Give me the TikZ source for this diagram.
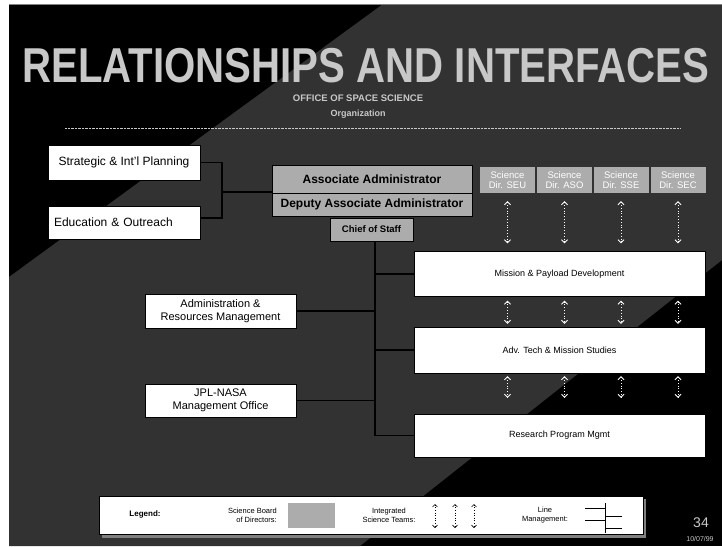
\documentclass[tikz,border=0pt]{standalone}
\usepackage{fontspec}
\setmainfont{Liberation Sans}
\usepackage{graphicx}
\usetikzlibrary{arrows.meta}
\definecolor{bandgray}{RGB}{50,50,50}
\definecolor{boardgray}{RGB}{172,172,172}
\definecolor{titlegray}{RGB}{200,200,200}
\tikzset{%
  >={Straight Barb[length=3pt,width=6pt]},
  unit/.style={draw=black,fill=white,inner sep=2pt,align=center,
    font=\fontsize{9}{10.5}\selectfont},
  side/.style={unit,font=\fontsize{12}{14}\selectfont},
  board/.style={draw=black,fill=boardgray,inner sep=1pt,align=center,
    font=\bfseries\fontsize{12}{13}\selectfont},
  dirbox/.style={fill=boardgray,inner sep=0pt,align=center,text=white,
    minimum width=55pt,minimum height=26pt,
    font=\fontsize{9.5}{10}\selectfont},
  team/.style={white,dotted,line width=0.8pt,<->},
  mgmt/.style={black,line width=1.2pt},
  legtext/.style={inner sep=0pt,align=center,font=\fontsize{7.5}{9}\selectfont}
}
\begin{document}
\begin{tikzpicture}[x=1pt,y=-1pt]
	%% frame and background
	\useasboundingbox (0,0) rectangle (722,546);
	\fill[white] (0,0) rectangle (722,546);
	\fill[black] (9,4) rectangle (722,546);
	\fill[bandgray] (383,4) -- (722,4) -- (722,260) -- (360,546)
	  -- (9,546) -- (9,277) -- cycle;
	\draw[gray,line width=1pt] (9,4) -- (722,4);
	
	%% heading
	\node[text=titlegray,inner sep=0pt,anchor=base] (title) at (366,82)
	  {\scalebox{0.82}[1]{\bfseries\fontsize{49}{52}\selectfont RELATIONSHIPS AND INTERFACES}};
	\node[text=titlegray,font=\bfseries\fontsize{9.5}{10}\selectfont,inner sep=0pt] (oss) at (358,98) {OFFICE OF SPACE SCIENCE};
	\node[text=titlegray,font=\bfseries\fontsize{9}{10}\selectfont,inner sep=0pt] (org) at (358,114) {Organization};
	\draw[titlegray,densely dotted] (65,128) -- (680,128);
	
	%% left column
	\node[side,minimum width=152pt,minimum height=35pt] (strat) at (124,162.5) {Strategic \& Int'l Planning};
	\node[side,minimum width=152pt,minimum height=33pt,text width=140pt,align=left] (edu) at (124,222.5) {Education \& Outreach};
	\node[side,minimum width=151pt,minimum height=34pt,font=\fontsize{11}{13}\selectfont] (arm) at (220.5,311) {Administration \&\\Resources Management};
	\node[side,minimum width=151pt,minimum height=33pt,font=\fontsize{11}{13}\selectfont] (jpl) at (220.5,400.5) {JPL-NASA\\Management Office};
	
	%% science board
	\node[board,minimum width=200pt,minimum height=28pt] (aa) at (372,179) {Associate Administrator};
	\node[board,minimum width=200pt,minimum height=23pt] (daa) at (372,204.5) {Deputy Associate Administrator};
	\node[board,minimum width=83pt,minimum height=23pt,font=\bfseries\fontsize{9.5}{11}\selectfont] (cos) at (371.5,229.5) {Chief of Staff};
	\node[dirbox] (d1) at (507.5,180) {Science\\Dir. SEU};
	\node[dirbox] (d2) at (564.5,180) {Science\\Dir. ASO};
	\node[dirbox] (d3) at (621,180) {Science\\Dir. SSE};
	\node[dirbox] (d4) at (678,180) {Science\\Dir. SEC};
	
	%% line units
	\node[unit,minimum width=291pt,minimum height=45pt] (mpd) at (559.5,274) {Mission \& Payload Development};
	\node[unit,minimum width=291pt,minimum height=46pt] (atm) at (559.5,350) {Adv. Tech \& Mission Studies};
	\node[unit,minimum width=291pt,minimum height=43pt] (rpm) at (559.5,435.5) {Research Program Mgmt};
	
	%% integrated science teams
	\foreach \i in {1,...,4} {
	  \draw[team,shorten <=8pt,shorten >=8pt] (d\i.south) -- (d\i.south |- mpd.north);
	  \draw[team,shorten <=4pt,shorten >=3pt] (d\i.south |- mpd.south) -- (d\i.south |- atm.north);
	  \draw[team,shorten <=3pt,shorten >=16pt] (d\i.south |- atm.south) -- (d\i.south |- rpm.north);
	}
	
	%% line management
	\coordinate (hub) at (222,192);
	\coordinate (trunk) at (375,241);
	\draw[mgmt] (strat.east) -| (hub) -- (aa.west |- hub);
	\draw[mgmt] (hub) -- (222,218) -- (edu.east |- 0,218);
	\draw[mgmt] (cos.south -| trunk) -- (trunk |- rpm.west) -- (rpm.west);
	\draw[mgmt] (trunk |- mpd.west) -- (mpd.west);
	\draw[mgmt] (arm.east) -- (arm.east -| trunk);
	\draw[mgmt] (trunk |- atm.west) -- (atm.west);
	\draw[mgmt] (jpl.east) -- (jpl.east -| trunk);
	
	%% legend
	\fill[gray] (102,499) rectangle (646,538);
	\node[draw=black,fill=white,minimum width=544pt,minimum height=38pt] (legend) at (371,515) {};
	\node[legtext,font=\bfseries\fontsize{8}{9}\selectfont] (legtitle) at (145,514) {Legend:};
	\node[legtext,align=right,anchor=east] (legboard) at (277,515) {Science Board\\of Directors:};
	\node[fill=boardgray,minimum width=47pt,minimum height=25pt] (swatch) at (311.5,515.5) {};
	\node[legtext] (legteam) at (389,515) {Integrated\\Science Teams:};
	\foreach \x in {435,455,474} {
	  \coordinate (lt) at (\x,504);
	  \draw[black,dotted,line width=0.6pt,<->,>={Straight Barb[length=2.5pt,width=5pt]}] (lt) -- ++(0,24);
	}
	\node[legtext] (legline) at (545,515) {Line\\Management:};
	\coordinate (lm) at (605,503);
	\draw[black,line width=1pt] (lm) -- ++(0,30)
	  (585,508) -- (605,508) (585,520) -- (605,520)
	  (605,516) -- (622,516) (605,528) -- (622,528);
	
	%% page number and date
	\node[text=titlegray,font=\fontsize{14}{16}\selectfont,inner sep=0pt] (page) at (701,523) {34};
	\node[text=titlegray,font=\fontsize{7}{8}\selectfont,inner sep=0pt] (date) at (700,539) {10/07/99};
\end{tikzpicture}
\end{document}
